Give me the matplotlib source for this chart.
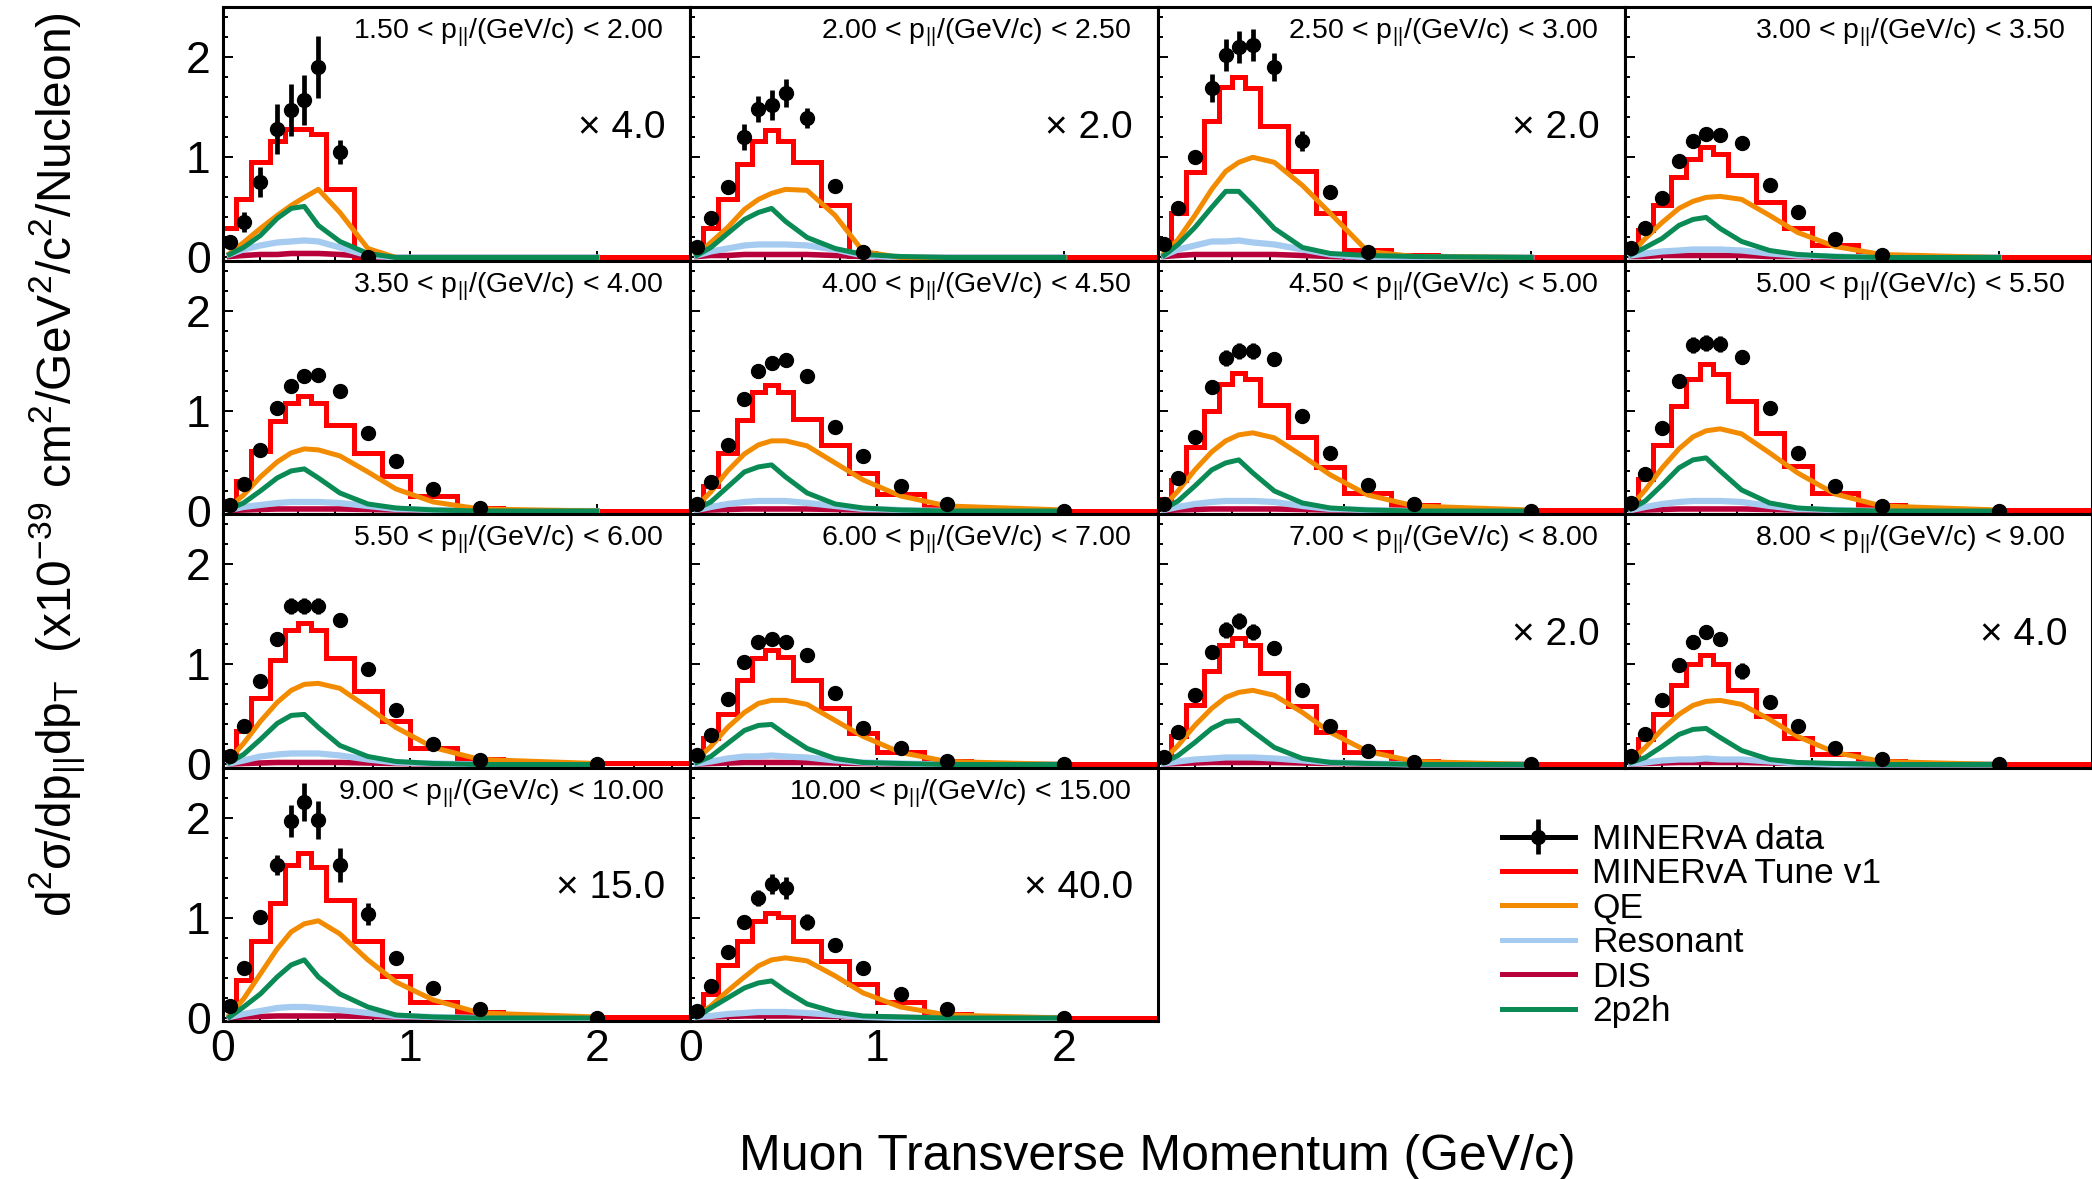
import numpy as np
import matplotlib
matplotlib.use("Agg")
import matplotlib.pyplot as plt
from matplotlib.lines import Line2D
from matplotlib.ticker import MultipleLocator, NullFormatter

plt.rcParams['font.family'] = ['Liberation Sans', 'DejaVu Sans']
plt.rcParams['mathtext.default'] = 'regular'

nan = np.nan

# ---------------- data ----------------
PT_EDGES = [0, 0.07, 0.15, 0.25, 0.33, 0.40, 0.47, 0.55, 0.70, 0.85, 1.0, 1.25, 1.5, 2.5]
PT_CENTERS = [0.035, 0.11, 0.2, 0.29, 0.365, 0.435, 0.51, 0.625, 0.775, 0.925, 1.125, 1.375, 2.0]
PL_BINS = [(1.5, 2.0), (2.0, 2.5), (2.5, 3.0), (3.0, 3.5),
           (3.5, 4.0), (4.0, 4.5), (4.5, 5.0), (5.0, 5.5),
           (5.5, 6.0), (6.0, 7.0), (7.0, 8.0), (8.0, 9.0),
           (9.0, 10.0), (10.0, 15.0)]
SCALES = [4.0, 2.0, 2.0, None, None, None, None, None, None, None, 2.0, 4.0, 15.0, 40.0]

DATA = [
    [0.15, 0.35, 0.75, 1.28, 1.47, 1.57, 1.90, 1.05, 0.00, nan, nan, nan, nan],
    [0.10, 0.39, 0.70, 1.20, 1.48, 1.52, 1.64, 1.39, 0.71, 0.05, nan, nan, nan],
    [0.13, 0.49, 1.00, 1.69, 2.02, 2.10, 2.12, 1.90, 1.16, 0.65, 0.05, nan, nan],
    [0.09, 0.29, 0.59, 0.96, 1.16, 1.23, 1.22, 1.14, 0.72, 0.45, 0.18, 0.02, nan],
    [0.06, 0.27, 0.61, 1.03, 1.25, 1.35, 1.36, 1.20, 0.78, 0.50, 0.22, 0.03, nan],
    [0.07, 0.29, 0.66, 1.12, 1.40, 1.48, 1.51, 1.35, 0.84, 0.55, 0.25, 0.07, 0.00],
    [0.07, 0.33, 0.74, 1.24, 1.53, 1.60, 1.60, 1.52, 0.95, 0.58, 0.26, 0.07, 0.00],
    [0.08, 0.37, 0.83, 1.30, 1.66, 1.68, 1.67, 1.54, 1.03, 0.58, 0.25, 0.05, 0.00],
    [0.08, 0.38, 0.83, 1.25, 1.58, 1.58, 1.58, 1.44, 0.95, 0.54, 0.20, 0.04, 0.00],
    [0.09, 0.29, 0.65, 1.02, 1.22, 1.25, 1.22, 1.09, 0.71, 0.36, 0.16, 0.03, 0.00],
    [0.07, 0.32, 0.69, 1.12, 1.34, 1.43, 1.32, 1.16, 0.74, 0.38, 0.13, 0.02, 0.00],
    [0.08, 0.30, 0.64, 0.99, 1.22, 1.32, 1.25, 0.93, 0.62, 0.38, 0.16, 0.05, 0.00],
    [0.12, 0.50, 1.01, 1.53, 1.97, 2.16, 1.98, 1.53, 1.04, 0.60, 0.30, 0.09, 0.00],
    [0.07, 0.32, 0.66, 0.96, 1.20, 1.34, 1.30, 0.96, 0.73, 0.50, 0.24, 0.09, 0.00],
]
DATA_ERR = [
    [0.03, 0.10, 0.15, 0.25, 0.26, 0.25, 0.31, 0.12, 0.01, nan, nan, nan, nan],
    [0.01, 0.03, 0.05, 0.13, 0.13, 0.15, 0.14, 0.10, 0.05, 0.01, nan, nan, nan],
    [0.01, 0.03, 0.06, 0.14, 0.16, 0.16, 0.16, 0.14, 0.10, 0.04, 0.01, nan, nan],
    [0.01, 0.02, 0.03, 0.04, 0.05, 0.05, 0.05, 0.05, 0.03, 0.02, 0.01, 0.005, nan],
    [0.01, 0.02, 0.03, 0.05, 0.06, 0.06, 0.06, 0.05, 0.04, 0.03, 0.01, 0.005, nan],
    [0.01, 0.02, 0.04, 0.06, 0.07, 0.07, 0.07, 0.06, 0.04, 0.03, 0.02, 0.01, 0.003],
    [0.01, 0.02, 0.04, 0.07, 0.08, 0.08, 0.08, 0.07, 0.05, 0.03, 0.02, 0.01, 0.003],
    [0.01, 0.02, 0.04, 0.07, 0.08, 0.08, 0.08, 0.07, 0.05, 0.03, 0.02, 0.01, 0.003],
    [0.01, 0.02, 0.04, 0.07, 0.08, 0.08, 0.08, 0.07, 0.05, 0.03, 0.02, 0.01, 0.003],
    [0.01, 0.02, 0.03, 0.05, 0.06, 0.06, 0.06, 0.05, 0.04, 0.03, 0.01, 0.01, 0.003],
    [0.01, 0.02, 0.04, 0.07, 0.08, 0.08, 0.08, 0.07, 0.05, 0.03, 0.02, 0.01, 0.003],
    [0.01, 0.02, 0.04, 0.06, 0.07, 0.07, 0.07, 0.08, 0.05, 0.03, 0.02, 0.01, 0.003],
    [0.02, 0.04, 0.06, 0.10, 0.16, 0.19, 0.19, 0.17, 0.11, 0.04, 0.03, 0.01, 0.003],
    [0.01, 0.02, 0.04, 0.06, 0.08, 0.10, 0.11, 0.08, 0.05, 0.03, 0.02, 0.01, 0.003],
]
TUNE = [
    [0.29, 0.58, 0.95, 1.16, 1.28, 1.28, 1.23, 0.68, 0.00, 0.00, 0.00, 0.00, 0.00],
    [0.10, 0.29, 0.58, 0.93, 1.16, 1.27, 1.16, 0.95, 0.52, 0.01, 0.00, 0.00, 0.00],
    [0.15, 0.44, 0.85, 1.36, 1.70, 1.80, 1.69, 1.31, 0.86, 0.44, 0.07, 0.02, 0.00],
    [0.10, 0.27, 0.52, 0.80, 0.98, 1.10, 1.03, 0.82, 0.55, 0.29, 0.12, 0.02, 0.00],
    [0.10, 0.30, 0.60, 0.90, 1.08, 1.15, 1.08, 0.86, 0.58, 0.35, 0.15, 0.03, 0.00],
    [0.10, 0.25, 0.58, 0.91, 1.19, 1.26, 1.19, 0.92, 0.66, 0.38, 0.17, 0.04, 0.00],
    [0.12, 0.31, 0.64, 1.00, 1.27, 1.38, 1.32, 1.06, 0.74, 0.44, 0.18, 0.06, 0.01],
    [0.12, 0.32, 0.66, 1.05, 1.32, 1.47, 1.37, 1.10, 0.78, 0.45, 0.18, 0.06, 0.01],
    [0.12, 0.33, 0.66, 1.04, 1.34, 1.41, 1.34, 1.06, 0.73, 0.43, 0.16, 0.05, 0.01],
    [0.10, 0.26, 0.50, 0.84, 1.06, 1.14, 1.07, 0.84, 0.56, 0.31, 0.12, 0.03, 0.00],
    [0.10, 0.28, 0.59, 0.93, 1.19, 1.26, 1.19, 0.91, 0.58, 0.32, 0.12, 0.03, 0.00],
    [0.10, 0.25, 0.50, 0.79, 1.00, 1.09, 1.00, 0.74, 0.48, 0.26, 0.10, 0.03, 0.00],
    [0.10, 0.38, 0.77, 1.15, 1.53, 1.65, 1.51, 1.18, 0.77, 0.42, 0.16, 0.06, 0.01],
    [0.08, 0.24, 0.53, 0.77, 0.97, 1.05, 1.01, 0.77, 0.57, 0.34, 0.16, 0.04, 0.00],
]
QE = [
    [0.04, 0.15, 0.29, 0.42, 0.52, 0.60, 0.68, 0.45, 0.09, 0.00, 0.00, 0.00, 0.00],
    [0.03, 0.15, 0.30, 0.48, 0.58, 0.64, 0.68, 0.67, 0.42, 0.06, 0.00, 0.00, 0.00],
    [0.04, 0.18, 0.42, 0.68, 0.86, 0.95, 1.00, 0.95, 0.72, 0.44, 0.06, 0.01, 0.00],
    [0.04, 0.19, 0.35, 0.49, 0.56, 0.60, 0.61, 0.58, 0.42, 0.25, 0.11, 0.03, 0.00],
    [0.04, 0.16, 0.34, 0.49, 0.58, 0.62, 0.61, 0.55, 0.39, 0.22, 0.09, 0.02, 0.00],
    [0.05, 0.19, 0.40, 0.57, 0.66, 0.70, 0.70, 0.65, 0.48, 0.31, 0.15, 0.05, 0.01],
    [0.05, 0.20, 0.41, 0.59, 0.70, 0.76, 0.78, 0.73, 0.55, 0.36, 0.16, 0.05, 0.01],
    [0.05, 0.21, 0.43, 0.62, 0.74, 0.80, 0.82, 0.77, 0.58, 0.38, 0.17, 0.05, 0.01],
    [0.05, 0.21, 0.43, 0.62, 0.74, 0.80, 0.81, 0.76, 0.57, 0.37, 0.17, 0.05, 0.01],
    [0.05, 0.18, 0.37, 0.52, 0.61, 0.64, 0.64, 0.60, 0.44, 0.28, 0.12, 0.03, 0.00],
    [0.05, 0.19, 0.39, 0.56, 0.67, 0.72, 0.74, 0.69, 0.52, 0.32, 0.13, 0.03, 0.00],
    [0.04, 0.17, 0.35, 0.50, 0.59, 0.63, 0.64, 0.60, 0.45, 0.28, 0.12, 0.03, 0.00],
    [0.03, 0.19, 0.44, 0.69, 0.86, 0.94, 0.97, 0.84, 0.58, 0.36, 0.18, 0.05, 0.01],
    [0.02, 0.12, 0.27, 0.41, 0.52, 0.58, 0.60, 0.57, 0.42, 0.25, 0.11, 0.03, 0.00],
]
RES = [
    [0.03, 0.08, 0.12, 0.15, 0.16, 0.17, 0.16, 0.10, 0.02, 0.00, 0.00, 0.00, 0.00],
    [0.02, 0.06, 0.09, 0.12, 0.13, 0.13, 0.13, 0.12, 0.08, 0.02, 0.00, 0.00, 0.00],
    [0.02, 0.08, 0.12, 0.16, 0.16, 0.17, 0.15, 0.13, 0.08, 0.03, 0.00, 0.00, 0.00],
    [0.02, 0.04, 0.06, 0.07, 0.08, 0.08, 0.08, 0.07, 0.04, 0.02, 0.01, 0.00, 0.00],
    [0.01, 0.04, 0.06, 0.08, 0.09, 0.09, 0.09, 0.08, 0.05, 0.02, 0.01, 0.00, 0.00],
    [0.01, 0.04, 0.07, 0.09, 0.10, 0.10, 0.10, 0.08, 0.05, 0.02, 0.01, 0.00, 0.00],
    [0.01, 0.04, 0.07, 0.09, 0.10, 0.10, 0.10, 0.09, 0.05, 0.02, 0.01, 0.00, 0.00],
    [0.01, 0.04, 0.07, 0.09, 0.10, 0.10, 0.10, 0.09, 0.05, 0.02, 0.01, 0.00, 0.00],
    [0.01, 0.04, 0.08, 0.10, 0.11, 0.11, 0.11, 0.09, 0.05, 0.02, 0.01, 0.00, 0.00],
    [0.01, 0.03, 0.06, 0.08, 0.08, 0.09, 0.08, 0.07, 0.04, 0.02, 0.01, 0.00, 0.00],
    [0.01, 0.03, 0.05, 0.06, 0.07, 0.07, 0.07, 0.06, 0.04, 0.02, 0.01, 0.00, 0.00],
    [0.01, 0.02, 0.04, 0.05, 0.05, 0.06, 0.05, 0.05, 0.03, 0.01, 0.00, 0.00, 0.00],
    [0.01, 0.04, 0.07, 0.10, 0.11, 0.11, 0.10, 0.08, 0.05, 0.02, 0.01, 0.00, 0.00],
    [0.01, 0.02, 0.04, 0.05, 0.06, 0.06, 0.06, 0.05, 0.03, 0.01, 0.00, 0.00, 0.00],
]
DIS = [
    [0.01, 0.02, 0.03, 0.03, 0.04, 0.04, 0.04, 0.03, 0.01, 0.00, 0.00, 0.00, 0.00],
    [0.01, 0.02, 0.02, 0.03, 0.03, 0.03, 0.03, 0.03, 0.02, 0.01, 0.00, 0.00, 0.00],
    [0.01, 0.02, 0.03, 0.03, 0.03, 0.03, 0.03, 0.03, 0.02, 0.01, 0.00, 0.00, 0.00],
    [0.01, 0.01, 0.02, 0.02, 0.02, 0.02, 0.02, 0.02, 0.01, 0.01, 0.00, 0.00, 0.00],
    [0.005, 0.01, 0.015, 0.02, 0.02, 0.02, 0.02, 0.02, 0.015, 0.01, 0.005, 0.00, 0.00],
    [0.005, 0.01, 0.015, 0.02, 0.02, 0.02, 0.02, 0.02, 0.015, 0.01, 0.005, 0.00, 0.00],
    [0.005, 0.01, 0.015, 0.02, 0.02, 0.02, 0.02, 0.02, 0.015, 0.01, 0.005, 0.00, 0.00],
    [0.005, 0.01, 0.015, 0.02, 0.02, 0.02, 0.02, 0.02, 0.015, 0.01, 0.005, 0.00, 0.00],
    [0.005, 0.01, 0.015, 0.02, 0.02, 0.02, 0.02, 0.02, 0.015, 0.01, 0.005, 0.00, 0.00],
    [0.005, 0.01, 0.015, 0.02, 0.02, 0.02, 0.02, 0.02, 0.015, 0.01, 0.005, 0.00, 0.00],
    [0.005, 0.01, 0.015, 0.02, 0.02, 0.02, 0.02, 0.02, 0.015, 0.01, 0.005, 0.00, 0.00],
    [0.005, 0.01, 0.015, 0.02, 0.02, 0.02, 0.02, 0.02, 0.015, 0.01, 0.005, 0.00, 0.00],
    [0.005, 0.01, 0.015, 0.02, 0.02, 0.02, 0.02, 0.02, 0.015, 0.01, 0.005, 0.00, 0.00],
    [0.005, 0.01, 0.015, 0.02, 0.02, 0.02, 0.02, 0.02, 0.015, 0.01, 0.005, 0.00, 0.00],
]
MEC = [
    [0.03, 0.10, 0.22, 0.39, 0.49, 0.51, 0.32, 0.16, 0.04, 0.00, 0.00, 0.00, 0.00],
    [0.02, 0.10, 0.24, 0.38, 0.45, 0.49, 0.36, 0.20, 0.09, 0.03, 0.01, 0.00, 0.00],
    [0.02, 0.13, 0.30, 0.50, 0.66, 0.66, 0.52, 0.29, 0.10, 0.04, 0.02, 0.01, 0.00],
    [0.03, 0.10, 0.19, 0.32, 0.38, 0.40, 0.29, 0.16, 0.07, 0.03, 0.01, 0.00, 0.00],
    [0.02, 0.08, 0.20, 0.33, 0.40, 0.42, 0.33, 0.18, 0.07, 0.03, 0.01, 0.00, 0.00],
    [0.02, 0.09, 0.24, 0.39, 0.44, 0.46, 0.34, 0.18, 0.07, 0.03, 0.01, 0.00, 0.00],
    [0.02, 0.10, 0.25, 0.41, 0.48, 0.51, 0.38, 0.20, 0.08, 0.03, 0.01, 0.00, 0.00],
    [0.02, 0.10, 0.26, 0.43, 0.51, 0.53, 0.40, 0.21, 0.08, 0.03, 0.01, 0.00, 0.00],
    [0.02, 0.10, 0.25, 0.41, 0.49, 0.50, 0.37, 0.19, 0.08, 0.03, 0.01, 0.00, 0.00],
    [0.02, 0.08, 0.21, 0.34, 0.39, 0.40, 0.30, 0.16, 0.06, 0.02, 0.01, 0.00, 0.00],
    [0.02, 0.09, 0.22, 0.36, 0.43, 0.44, 0.33, 0.17, 0.06, 0.02, 0.01, 0.00, 0.00],
    [0.02, 0.07, 0.18, 0.30, 0.35, 0.36, 0.27, 0.14, 0.05, 0.02, 0.01, 0.00, 0.00],
    [0.01, 0.11, 0.24, 0.41, 0.53, 0.58, 0.41, 0.24, 0.11, 0.03, 0.01, 0.00, 0.00],
    [0.01, 0.10, 0.20, 0.30, 0.35, 0.37, 0.27, 0.14, 0.06, 0.02, 0.01, 0.00, 0.00],
]

LEGEND_LABELS = ["MINERvA data", "MINERvA Tune v1", "QE", "Resonant", "DIS", "2p2h"]
X_TICK_LABELS = ["0", "1", "2"]
Y_TICK_LABELS = ["0", "1", "2"]

# ---------------- styling ----------------
C_TUNE = "#ff0000"
C_QE = "#f38b00"
C_RES = "#a6cbf0"
C_DIS = "#b8003a"
C_MEC = "#0a8a55"

W, H = 2092, 1179
fig = plt.figure(figsize=(W / 100, H / 100), dpi=100)

LEFT_PX = 223
TOP_PX = 7
PW = (W - LEFT_PX) / 4.0
PH = 253.5

eb_handle = None
for i in range(14):
    row, col = divmod(i, 4)
    left = (LEFT_PX + col * PW) / W
    bottom = 1 - (TOP_PX + (row + 1) * PH) / H
    ax = fig.add_axes([left, bottom, PW / W, PH / H])
    ax.set_xlim(0, 2.5)
    ax.set_ylim(-0.03, 2.5)

    ax.stairs(TUNE[i], PT_EDGES, color=C_TUNE, lw=3.6, baseline=None, zorder=2)
    ax.plot(PT_CENTERS, DIS[i], color=C_DIS, lw=4.0, zorder=3, solid_joinstyle='round')
    ax.plot(PT_CENTERS, RES[i], color=C_RES, lw=4.5, zorder=3.1, solid_joinstyle='round')
    ax.plot(PT_CENTERS, QE[i], color=C_QE, lw=3.6, zorder=3.2, solid_joinstyle='round')
    ax.plot(PT_CENTERS, MEC[i], color=C_MEC, lw=3.6, zorder=3.3, solid_joinstyle='round')
    eb = ax.errorbar(PT_CENTERS, DATA[i], yerr=DATA_ERR[i], fmt='o', color='black',
                     ms=10, elinewidth=3.4, capsize=0, zorder=6)
    if eb_handle is None:
        eb_handle = eb

    for sp in ax.spines.values():
        sp.set_linewidth(2.2)
        sp.set_color('black')

    ax.xaxis.set_major_locator(MultipleLocator(1))
    ax.xaxis.set_minor_locator(MultipleLocator(0.2))
    ax.yaxis.set_major_locator(MultipleLocator(1))
    ax.yaxis.set_minor_locator(MultipleLocator(0.2))
    ax.tick_params(which='both', direction='in', top=False, right=False, width=1.4)
    ax.tick_params(which='major', length=7)
    ax.tick_params(which='minor', length=3.5)
    ax.tick_params(axis='y', labelsize=32, pad=9)
    ax.tick_params(axis='x', labelsize=32, pad=6)

    if col == 0:
        ax.set_yticks([0, 1, 2])
        ax.set_yticklabels(Y_TICK_LABELS)
    else:
        ax.yaxis.set_major_formatter(NullFormatter())
    if row == 3:
        ax.set_xticks([0, 1, 2])
        ax.set_xticklabels(X_TICK_LABELS)
    else:
        ax.xaxis.set_major_formatter(NullFormatter())

    lo, hi = PL_BINS[i]
    ax.text(0.943, 0.875, f"{lo:.2f} < p$_{{||}}$/(GeV/c) < {hi:.2f}",
            transform=ax.transAxes, ha='right', va='baseline', fontsize=20.5, zorder=10)
    if SCALES[i] is not None:
        ax.text(0.947, 0.485, f"\u00d7 {SCALES[i]:.1f}", transform=ax.transAxes,
                ha='right', va='baseline', fontsize=28, zorder=10)

# axis titles
fig.text(1157 / W, 22 / H, "Muon Transverse Momentum (GeV/c)", ha='center', va='center',
         fontsize=36)
fig.text(58 / W, 1 - 465 / H,
         r"d$^{2}$σ/dp$_{||}$dp$_{T}$  (x10$^{-39}$ cm$^{2}$/GeV$^{2}$/c$^{2}$/Nucleon)",
         rotation=90, ha='center', va='center', fontsize=34.5)

# legend
handles = [
    (Line2D([], [], color='black', lw=3.6), eb_handle),
    Line2D([], [], color=C_TUNE, lw=3.6),
    Line2D([], [], color=C_QE, lw=3.6),
    Line2D([], [], color=C_RES, lw=3.6),
    Line2D([], [], color=C_DIS, lw=3.6),
    Line2D([], [], color=C_MEC, lw=3.6),
]
fig.legend(handles, LEGEND_LABELS, loc='upper left', bbox_to_anchor=(1502 / W, 1 - 823 / H),
           frameon=False, fontsize=25.5, handlelength=2.05, handletextpad=0.5,
           labelspacing=0.04, borderpad=0, borderaxespad=0)

fig.savefig("out.png", dpi=100)
